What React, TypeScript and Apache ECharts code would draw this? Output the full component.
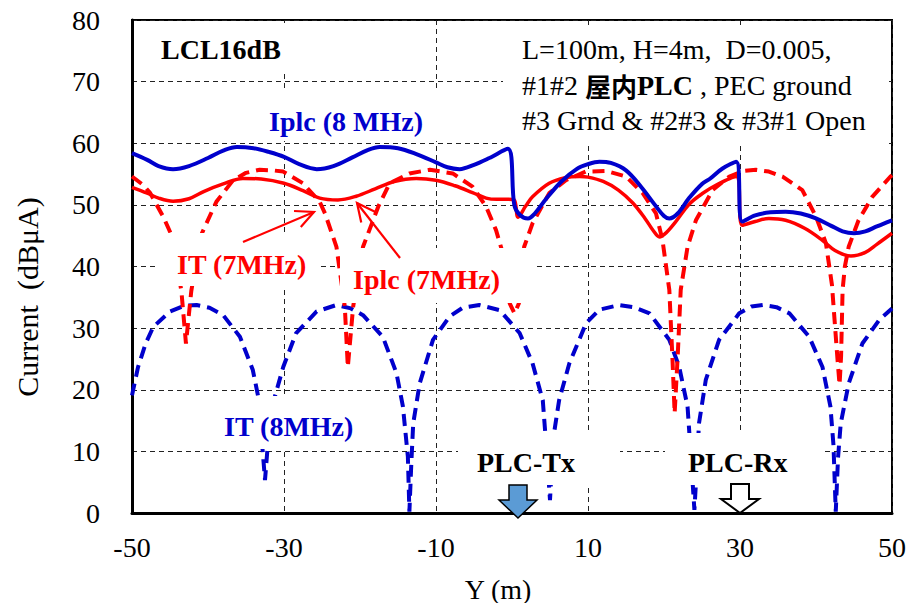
import React, { useEffect, useRef } from "react";
import * as echarts from "echarts";

// ---- data (x = Y (m), y = Current (dBμA)) ----
const IPLC_8MHZ: [number, number][] = [
  [-50, 58.4], [-48, 57.3], [-46.5, 56.3], [-44.6, 55.8], [-42.5, 56.3], [-40, 57.6], [-38, 58.8],
  [-36.2, 59.4], [-34, 59.2], [-32, 58.6], [-30, 57.8], [-28, 56.6], [-25.7, 55.8], [-23.5, 56.3],
  [-21, 57.7], [-19, 58.9], [-17.4, 59.4], [-15, 59.2], [-12.5, 58.2], [-10, 56.9], [-8.5, 56.1],
  [-6.9, 55.8], [-5, 56.5], [-3, 57.6], [-0.55, 59.1], [0.3, 50.0], [1, 48.4], [2.1, 47.8],
  [3, 48.6], [4.5, 51], [6.5, 53.8], [8.5, 55.8], [10, 56.6], [11.5, 57.0], [13, 56.8], [15, 55.6],
  [17, 52.9], [18.8, 50], [20, 48.2], [20.7, 47.8], [21.8, 48.6], [23.3, 51.1], [25, 53.4],
  [26, 54.2], [27.7, 55.9], [29.5, 57.0], [30.3, 47.3], [32, 48.3], [34, 48.8], [36, 48.9],
  [38, 48.6], [40, 47.8], [42, 46.6], [43.5, 45.7], [45, 45.4], [46.5, 45.7], [48, 46.5], [50, 47.5],
];

const IPLC_7MHZ: [number, number][] = [
  [-50, 52.85], [-48, 51.9], [-46.5, 51.1], [-44.6, 50.6], [-42.5, 51], [-40.5, 52.2], [-38, 53.4],
  [-35.4, 54.3], [-33, 54.2], [-30, 53.5], [-27.5, 52.3], [-25.3, 51.1], [-22.9, 50.8], [-20.5, 51.4],
  [-18, 52.6], [-15.5, 53.8], [-12.6, 54.3], [-10, 54.0], [-7.5, 53.1], [-5.2, 52], [-3.4, 51.1],
  [-2, 50.9], [-0.5, 50.9], [0.3, 50.8], [0.8, 48.0], [1.8, 49.8], [2.7, 51.3], [4.9, 53.5],
  [7, 54.4], [8.9, 54.6], [10, 54.5], [12, 53.8], [14, 52.4], [15.9, 50.3], [17.5, 47.8],
  [18.6, 45.8], [19.4, 44.8], [20.3, 45.5], [21.5, 47.2], [23.3, 50.1], [25, 51.8], [27, 53.3],
  [29.5, 54.6], [30.3, 46.7], [32, 47.3], [33.8, 47.8], [36, 47.5], [38.5, 46.2], [40.8, 44.3],
  [42.5, 42.6], [44.6, 41.7], [46.5, 42.3], [48, 43.6], [50, 45.4],
];

const IT_7MHZ: [number, number][] = [
  [-50, 54.6], [-48.5, 53.2], [-47.6, 51.9], [-45.9, 48.1], [-44.8, 45.1], [-44.1, 40.5],
  [-43.5, 36], [-42.9, 27.5], [-42.2, 36], [-41.6, 40.5], [-40.8, 45.4], [-38.9, 50.5],
  [-36.7, 54.0], [-35, 55.2], [-33.2, 55.7], [-31.5, 55.6], [-30.1, 55.4], [-27.5, 53.5],
  [-25.3, 50.5], [-24.6, 48.6], [-23.1, 43.2], [-22.0, 33.5], [-21.6, 23.7], [-20.9, 33.5],
  [-19.6, 43.2], [-17.6, 49.7], [-16.1, 53.5], [-13.5, 55.1], [-10.8, 55.7], [-7.8, 55.1],
  [-5.2, 52.95], [-3.4, 49.7], [-2.1, 45.9], [-1.4, 42.95], [-0.3, 34], [0.33, 32.4], [0.9, 34],
  [1.6, 43.2], [2.7, 47], [4.9, 51.9], [7.1, 54], [9.7, 55.4], [12.4, 55.5], [15, 54.6],
  [17.2, 51.9], [18.95, 48.6], [19.8, 44.3], [20.7, 36.2], [21.1, 25.4], [21.4, 16.2],
  [21.8, 25.4], [22.2, 36.2], [23.1, 43.2], [24.2, 47.5], [26.4, 52.4], [28.6, 54.6],
  [30.5, 55.5], [32.1, 55.7], [33.8, 55.4], [35.6, 54.6], [38.2, 52.4], [40, 48.1], [41.3, 43.8],
  [42.1, 37], [42.8, 25.4], [43.1, 20.8], [43.3, 25.4], [43.5, 36.2], [43.8, 40], [44.3, 43.2],
  [45.6, 47.5], [47.4, 51.3], [49.8, 54.6], [50, 54.8],
];

const IT_8MHZ: [number, number][] = [
  [-50, 19.1], [-49.2, 23.7], [-48.2, 27.5], [-47.2, 30.2], [-45, 32.7], [-43.2, 33.6],
  [-41.5, 33.75], [-39.8, 33.3], [-38, 32.1], [-35.8, 28.6], [-34.1, 23.2], [-33.4, 18.9],
  [-32.8, 10], [-32.5, 5.35], [-32.2, 10], [-31.2, 18.9], [-30.1, 23.7], [-28.4, 29.2],
  [-25.7, 32.7], [-23.1, 33.75], [-21.2, 33.2], [-19.6, 32.1], [-17, 28.6], [-15.2, 22.7],
  [-14.35, 17.25], [-13.7, 9.1], [-13.5, 0.2], [-13.25, 8], [-13, 14.5], [-12.15, 21],
  [-10.4, 28.1], [-8.2, 31.9], [-6.5, 33.3], [-4.3, 33.75], [-1.6, 32.9], [1, 29.2], [2.7, 24.3],
  [4.05, 18.3], [4.5, 11], [5.0, 2.1], [5.3, 9], [5.6, 13.5], [6.2, 18.3], [7.55, 24.3],
  [9.75, 30.8], [11.5, 33], [14.1, 33.75], [16, 33.4], [18.1, 32.4], [20.7, 28.1], [22, 23.7],
  [23.1, 17.25], [23.5, 10], [24.0, 0.5], [24.3, 7], [24.6, 14.5], [25.5, 21.6], [27.25, 28.1],
  [29.9, 32.4], [31.5, 33.5], [33, 33.75], [34.8, 33.4], [36.5, 32.4], [39.1, 28.6], [40.85, 23.7],
  [41.9, 17.25], [42.3, 11], [42.6, 0.2], [42.9, 9], [43.25, 14.5], [44.3, 21], [46.1, 27.5],
  [48.3, 31.3], [50, 33.2],
];

const SERIF = "Liberation Serif, Times New Roman, serif";
const CJK = "Noto Sans CJK JP, Noto Sans CJK SC, sans-serif";
const BLUE = "#0000CC";
const RED = "#FF0000";

function arrow(x1: number, y1: number, x2: number, y2: number, color: string) {
  const a = Math.atan2(y2 - y1, x2 - x1);
  const len = 20;
  const spread = 0.45;
  const h1 = [x2 - len * Math.cos(a - spread), y2 - len * Math.sin(a - spread)];
  const h2 = [x2 - len * Math.cos(a + spread), y2 - len * Math.sin(a + spread)];
  return [
    { type: "line", z: 120, shape: { x1, y1, x2, y2 }, style: { stroke: color, lineWidth: 2.2 } },
    { type: "polyline", z: 120, shape: { points: [h1, [x2, y2], h2] }, style: { stroke: color, lineWidth: 2.2, fill: null } },
  ];
}

function whiteBox(x: number, y: number, w: number, h: number) {
  return { type: "rect", z: 100, shape: { x, y, width: w, height: h }, style: { fill: "#fff" } };
}

function label(text: string, x: number, y: number, color: string, bold = true, size = 28) {
  return {
    type: "text",
    z: 110,
    x,
    y,
    style: {
      text,
      fill: color,
      fontFamily: SERIF,
      fontSize: size,
      fontWeight: bold ? "bold" : "normal",
      align: "left",
      verticalAlign: "middle",
    },
  };
}

export default function App() {
  const ref = useRef<HTMLDivElement>(null);
  useEffect(() => {
    if (!ref.current) return;
    const chart = echarts.init(ref.current, undefined, { renderer: "svg" });

    const lineSeries = (name: string, data: [number, number][], color: string, dashed: boolean, width: number) => ({
      name,
      type: "line",
      data,
      showSymbol: false,
      symbol: "none",
      smooth: dashed ? false : 0.35,
      lineStyle: { color, width, type: dashed ? [12, 7] : "solid", cap: "butt" },
      itemStyle: { color },
      z: 3,
    });

    chart.setOption({
      animation: false,
      backgroundColor: "#fff",
      grid: { left: 132, top: 20, right: 16, bottom: 90, show: true, borderColor: "#000", borderWidth: 2, backgroundColor: "transparent" },
      xAxis: {
        type: "value",
        min: -50,
        max: 50,
        interval: 20,
        axisLine: { show: true, onZero: false, lineStyle: { color: "#000", width: 3 } },
        axisTick: { show: false },
        axisLabel: { color: "#000", fontFamily: SERIF, fontSize: 28, margin: 20 },
        splitLine: { show: true, lineStyle: { color: "#222", width: 1, type: [5, 4] } },
      },
      yAxis: {
        type: "value",
        min: 0,
        max: 80,
        interval: 10,
        axisLine: { show: true, onZero: false, lineStyle: { color: "#000", width: 3 } },
        axisTick: { show: false },
        axisLabel: { color: "#000", fontFamily: SERIF, fontSize: 28, margin: 32 },
        splitLine: { show: true, lineStyle: { color: "#222", width: 1, type: [5, 4] } },
      },
      series: [
        lineSeries("IT (8MHz)", IT_8MHZ, BLUE, true, 4),
        lineSeries("IT (7MHz)", IT_7MHZ, RED, true, 4),
        lineSeries("Iplc (7MHz)", IPLC_7MHZ, RED, false, 3.5),
        lineSeries("Iplc (8 MHz)", IPLC_8MHZ, BLUE, false, 4),
      ],
      graphic: [
        // white label backgrounds
        whiteBox(140, 23, 152, 49),
        whiteBox(503, 25, 386, 120),
        whiteBox(258, 90, 184, 51),
        whiteBox(155, 233, 165, 53),
        whiteBox(340, 248, 195, 55),
        whiteBox(215, 396, 155, 53),
        whiteBox(458, 433, 162, 52),
        whiteBox(665, 433, 157, 52),
        // labels
        label("LCL16dB", 161, 49, "#000"),
        label("Iplc (8 MHz)", 269, 121, BLUE),
        label("IT (7MHz)", 177, 264, RED),
        label("Iplc (7MHz)", 353, 279, RED),
        label("IT (8MHz)", 224, 426, BLUE),
        label("PLC-Tx", 477, 462, "#000"),
        label("PLC-Rx", 688, 462, "#000"),
        label("L=100m, H=4m,  D=0.005,", 522, 49, "#000", false),
        {
          type: "text",
          z: 110,
          x: 522,
          y: 85,
          style: {
            text: "{n|#1#2 }{cjk|屋内}{b|PLC}{n| , PEC ground}",
            fill: "#000",
            fontFamily: SERIF,
            fontSize: 28,
            align: "left",
            verticalAlign: "middle",
            rich: {
              n: { fontFamily: SERIF, fontSize: 28, fill: "#000" },
              b: { fontFamily: SERIF, fontSize: 28, fontWeight: "bold", fill: "#000" },
              cjk: { fontFamily: CJK, fontSize: 26, fontWeight: "bold", fill: "#000" },
            },
          },
        },
        label("#3 Grnd & #2#3 & #3#1 Open", 522, 120, "#000", false),
        // pointer arrows
        ...arrow(243, 242, 314, 212, RED),
        ...arrow(400, 258, 357, 203, RED),
        // PLC Tx / Rx block arrows
        {
          type: "polygon",
          z: 115,
          shape: { points: [[509, 485], [527, 485], [527, 500], [537, 500], [518, 518], [499, 500], [509, 500]] },
          style: { fill: "#5B9BD5", stroke: "#000", lineWidth: 1.5 },
        },
        {
          type: "polygon",
          z: 115,
          shape: { points: [[731, 484], [749, 484], [749, 499], [759, 499], [740, 513], [721, 499], [731, 499]] },
          style: { fill: "#fff", stroke: "#000", lineWidth: 2 },
        },
        // axis names
        {
          type: "text",
          z: 110,
          x: 498,
          y: 589,
          style: { text: "Y (m)", fill: "#000", fontFamily: SERIF, fontSize: 28, align: "center", verticalAlign: "middle" },
        },
        {
          type: "text",
          z: 110,
          x: 27,
          y: 297,
          rotation: Math.PI / 2,
          style: { text: "Current  (dBμA)", fill: "#000", fontFamily: SERIF, fontSize: 30, align: "center", verticalAlign: "middle" },
        },
      ],
    });
    return () => chart.dispose();
  }, []);

  return <div ref={ref} style={{ position: "fixed", left: 0, top: 0, width: 909, height: 603, background: "#fff" }} />;
}
